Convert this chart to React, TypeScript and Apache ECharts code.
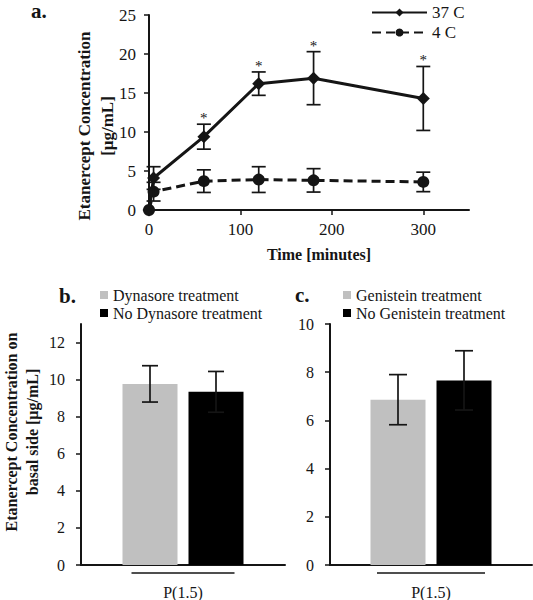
import React, { useEffect, useRef } from "react";
import * as echarts from "echarts";

// ---- Panel a data ----
const timeMinutes = [0, 5, 60, 120, 180, 300];
const conc37 = [0, 4.1, 9.4, 16.2, 16.9, 14.3];
const err37 = [0, 1.45, 1.6, 1.5, 3.4, 4.1];
const sig37 = [0, 0, 1, 1, 1, 1];
const conc4 = [0, 2.35, 3.7, 3.9, 3.8, 3.6];
const err4 = [0, 1.2, 1.45, 1.65, 1.5, 1.25];
const xTicksA = [0, 100, 200, 300];
const yTicksA = [0, 5, 10, 15, 20, 25];

// ---- Panel b data ----
const categoryB = ["P(1.5)"];
const dynasore = [9.77];
const dynasoreErr = [0.98];
const noDynasore = [9.34];
const noDynasoreErr = [1.1];
const yTicksB = [0, 2, 4, 6, 8, 10, 12];

// ---- Panel c data ----
const categoryC = ["P(1.5)"];
const genistein = [6.86];
const genisteinErr = [1.04];
const noGenistein = [7.66];
const noGenisteinErr = [1.23];
const yTicksC = [0, 2, 4, 6, 8, 10];

const FONT = '"Liberation Serif", "Times New Roman", serif';
const INK = "#151515";
const GRAY = "#c0c0c0";

function errorRenderer(capHalf: number, offset: number) {
  return (params: any, api: any) => {
    const x = api.value(0);
    const v = api.value(1);
    const e = api.value(2);
    const s = api.value(3);
    if (!e) return null;
    const top = api.coord([x, v + e]);
    const bot = api.coord([x, v - e]);
    const cx = top[0] + offset;
    const st = { stroke: INK, lineWidth: 1.7 };
    const children: any[] = [
      { type: "line", shape: { x1: cx, y1: top[1], x2: cx, y2: bot[1] }, style: st },
      { type: "line", shape: { x1: cx - capHalf, y1: top[1], x2: cx + capHalf, y2: top[1] }, style: st },
      { type: "line", shape: { x1: cx - capHalf, y1: bot[1], x2: cx + capHalf, y2: bot[1] }, style: st },
    ];
    if (s) {
      children.push({
        type: "text",
        x: cx,
        y: top[1] - 6,
        style: { text: "*", font: `15px ${FONT}`, fill: INK, stroke: "none", align: "center", verticalAlign: "middle" },
      });
    }
    return { type: "group", children };
  };
}

const axisLine = { show: true, lineStyle: { color: INK, width: 2 } };
const tickStyle = { show: true, length: 5, inside: false, lineStyle: { color: INK, width: 1.5 } };
const labelStyle = { color: INK, fontFamily: FONT, fontSize: 17 };

function catLabel(width: number) {
  return {
    show: true,
    interval: 0,
    margin: 7,
    formatter: (v: string) => `{l| }\n{t|${v}}`,
    rich: {
      l: { width, height: 1.5, lineHeight: 2, fontSize: 2, backgroundColor: INK },
      t: { fontFamily: FONT, fontSize: 16, color: INK, lineHeight: 36 },
    },
  };
}

export default function App() {
  const ref = useRef<HTMLDivElement>(null);
  useEffect(() => {
    if (!ref.current) return;
    const chart = echarts.init(ref.current, null, { renderer: "svg" });
    const option: any = {
      animation: false,
      backgroundColor: "#ffffff",
      textStyle: { fontFamily: FONT, color: INK },
      grid: [
        { left: 149, right: 64, top: 15, height: 195 },
        { left: 81, right: 248, top: 324, height: 243 },
        { left: 330, right: 1, top: 324, height: 241 },
      ],
      xAxis: [
        {
          gridIndex: 0,
          type: "value",
          min: 0,
          max: 350,
          interval: 100,
          splitLine: { show: false },
          axisLine,
          axisTick: { ...tickStyle, customValues: xTicksA },
          axisLabel: { ...labelStyle, margin: 11, customValues: xTicksA },
        },
        {
          gridIndex: 1,
          type: "category",
          data: categoryB,
          axisLine,
          axisTick: { show: false },
          axisLabel: catLabel(103),
        },
        {
          gridIndex: 2,
          type: "category",
          data: categoryC,
          axisLine,
          axisTick: { show: false },
          axisLabel: catLabel(108),
        },
      ],
      yAxis: [
        {
          gridIndex: 0,
          type: "value",
          min: 0,
          max: 25,
          interval: 5,
          splitLine: { show: false },
          axisLine,
          axisTick: { ...tickStyle, customValues: yTicksA },
          axisLabel: { ...labelStyle, margin: 13, customValues: yTicksA },
        },
        {
          gridIndex: 1,
          type: "value",
          min: 0,
          max: 13,
          interval: 2,
          splitLine: { show: false },
          axisLine,
          axisTick: { ...tickStyle, customValues: yTicksB },
          axisLabel: { ...labelStyle, fontSize: 16, margin: 16, customValues: yTicksB },
        },
        {
          gridIndex: 2,
          type: "value",
          min: 0,
          max: 10,
          interval: 2,
          splitLine: { show: false },
          axisLine,
          axisTick: { ...tickStyle, customValues: yTicksC },
          axisLabel: { ...labelStyle, fontSize: 16, margin: 16, customValues: yTicksC },
        },
      ],
      legend: [
        {
          data: ["37 C", "4 C"],
          orient: "vertical",
          left: 366,
          top: -1,
          itemWidth: 55,
          itemHeight: 10,
          itemGap: 3,
          textStyle: { fontFamily: FONT, fontSize: 17, color: INK },
        },
        {
          data: ["Dynasore treatment", "No Dynasore treatment"],
          orient: "vertical",
          left: 95,
          top: 282,
          icon: "rect",
          itemWidth: 8,
          itemHeight: 8,
          itemGap: 2,
          textStyle: { fontFamily: FONT, fontSize: 16, color: INK },
        },
        {
          data: ["Genistein treatment", "No Genistein treatment"],
          orient: "vertical",
          left: 338,
          top: 282,
          icon: "rect",
          itemWidth: 8,
          itemHeight: 8,
          itemGap: 2,
          textStyle: { fontFamily: FONT, fontSize: 16, color: INK },
        },
      ],
      graphic: [
        { type: "text", x: 31, y: 11, style: { text: "a.", font: `bold 21px ${FONT}`, fill: INK, verticalAlign: "middle" } },
        { type: "text", x: 59, y: 296, style: { text: "b.", font: `bold 21px ${FONT}`, fill: INK, verticalAlign: "middle" } },
        { type: "text", x: 295, y: 295, style: { text: "c.", font: `bold 21px ${FONT}`, fill: INK, verticalAlign: "middle" } },
        {
          type: "text",
          x: 96,
          y: 126,
          rotation: Math.PI / 2,
          style: {
            text: "Etanercept Concentration\n[μg/mL]",
            font: `bold 17px ${FONT}`,
            lineHeight: 23,
            fill: INK,
            align: "center",
            verticalAlign: "middle",
          },
        },
        {
          type: "text",
          x: 319,
          y: 254,
          style: { text: "Time [minutes]", font: `bold 16px ${FONT}`, fill: INK, align: "center", verticalAlign: "middle" },
        },
        {
          type: "text",
          x: 22,
          y: 432,
          rotation: Math.PI / 2,
          style: {
            text: "Etanercept Concentration on\nbasal side [μg/mL]",
            font: `bold 16px ${FONT}`,
            lineHeight: 21,
            fill: INK,
            align: "center",
            verticalAlign: "middle",
          },
        },
      ],
      series: [
        {
          name: "37 C",
          type: "line",
          xAxisIndex: 0,
          yAxisIndex: 0,
          data: timeMinutes.map((t, i) => [t, conc37[i]]),
          symbol: "diamond",
          symbolSize: 13,
          lineStyle: { color: INK, width: 3 },
          itemStyle: { color: INK },
          z: 2,
        },
        {
          name: "4 C",
          type: "line",
          xAxisIndex: 0,
          yAxisIndex: 0,
          data: timeMinutes.map((t, i) => [t, conc4[i]]),
          symbol: "circle",
          symbolSize: 12,
          lineStyle: { color: INK, width: 3, type: [9, 5] },
          itemStyle: { color: INK },
          z: 2,
        },
        {
          type: "custom",
          xAxisIndex: 0,
          yAxisIndex: 0,
          renderItem: errorRenderer(7, 0),
          data: timeMinutes.map((t, i) => [t, conc37[i], err37[i], sig37[i]]),
          z: 3,
          silent: true,
        },
        {
          type: "custom",
          xAxisIndex: 0,
          yAxisIndex: 0,
          renderItem: errorRenderer(7, 0),
          data: timeMinutes.map((t, i) => [t, conc4[i], err4[i], 0]),
          z: 3,
          silent: true,
        },
        {
          name: "Dynasore treatment",
          type: "bar",
          xAxisIndex: 1,
          yAxisIndex: 1,
          data: dynasore,
          barWidth: 55,
          barGap: "20%",
          itemStyle: { color: GRAY },
        },
        {
          name: "No Dynasore treatment",
          type: "bar",
          xAxisIndex: 1,
          yAxisIndex: 1,
          data: noDynasore,
          barWidth: 55,
          barGap: "20%",
          itemStyle: { color: "#000000" },
        },
        {
          type: "custom",
          xAxisIndex: 1,
          yAxisIndex: 1,
          renderItem: errorRenderer(8, -33),
          data: dynasore.map((v, i) => [i, v, dynasoreErr[i], 0]),
          z: 3,
          silent: true,
        },
        {
          type: "custom",
          xAxisIndex: 1,
          yAxisIndex: 1,
          renderItem: errorRenderer(8, 33),
          data: noDynasore.map((v, i) => [i, v, noDynasoreErr[i], 0]),
          z: 3,
          silent: true,
        },
        {
          name: "Genistein treatment",
          type: "bar",
          xAxisIndex: 2,
          yAxisIndex: 2,
          data: genistein,
          barWidth: 55,
          barGap: "20%",
          itemStyle: { color: GRAY },
        },
        {
          name: "No Genistein treatment",
          type: "bar",
          xAxisIndex: 2,
          yAxisIndex: 2,
          data: noGenistein,
          barWidth: 55,
          barGap: "20%",
          itemStyle: { color: "#000000" },
        },
        {
          type: "custom",
          xAxisIndex: 2,
          yAxisIndex: 2,
          renderItem: errorRenderer(9, -33),
          data: genistein.map((v, i) => [i, v, genisteinErr[i], 0]),
          z: 3,
          silent: true,
        },
        {
          type: "custom",
          xAxisIndex: 2,
          yAxisIndex: 2,
          renderItem: errorRenderer(9, 33),
          data: noGenistein.map((v, i) => [i, v, noGenisteinErr[i], 0]),
          z: 3,
          silent: true,
        },
      ],
    };
    chart.setOption(option);
    return () => chart.dispose();
  }, []);
  return (
    <div
      ref={ref}
      style={{ position: "fixed", left: 0, top: 0, width: 533, height: 600, background: "#fff" }}
    />
  );
}
